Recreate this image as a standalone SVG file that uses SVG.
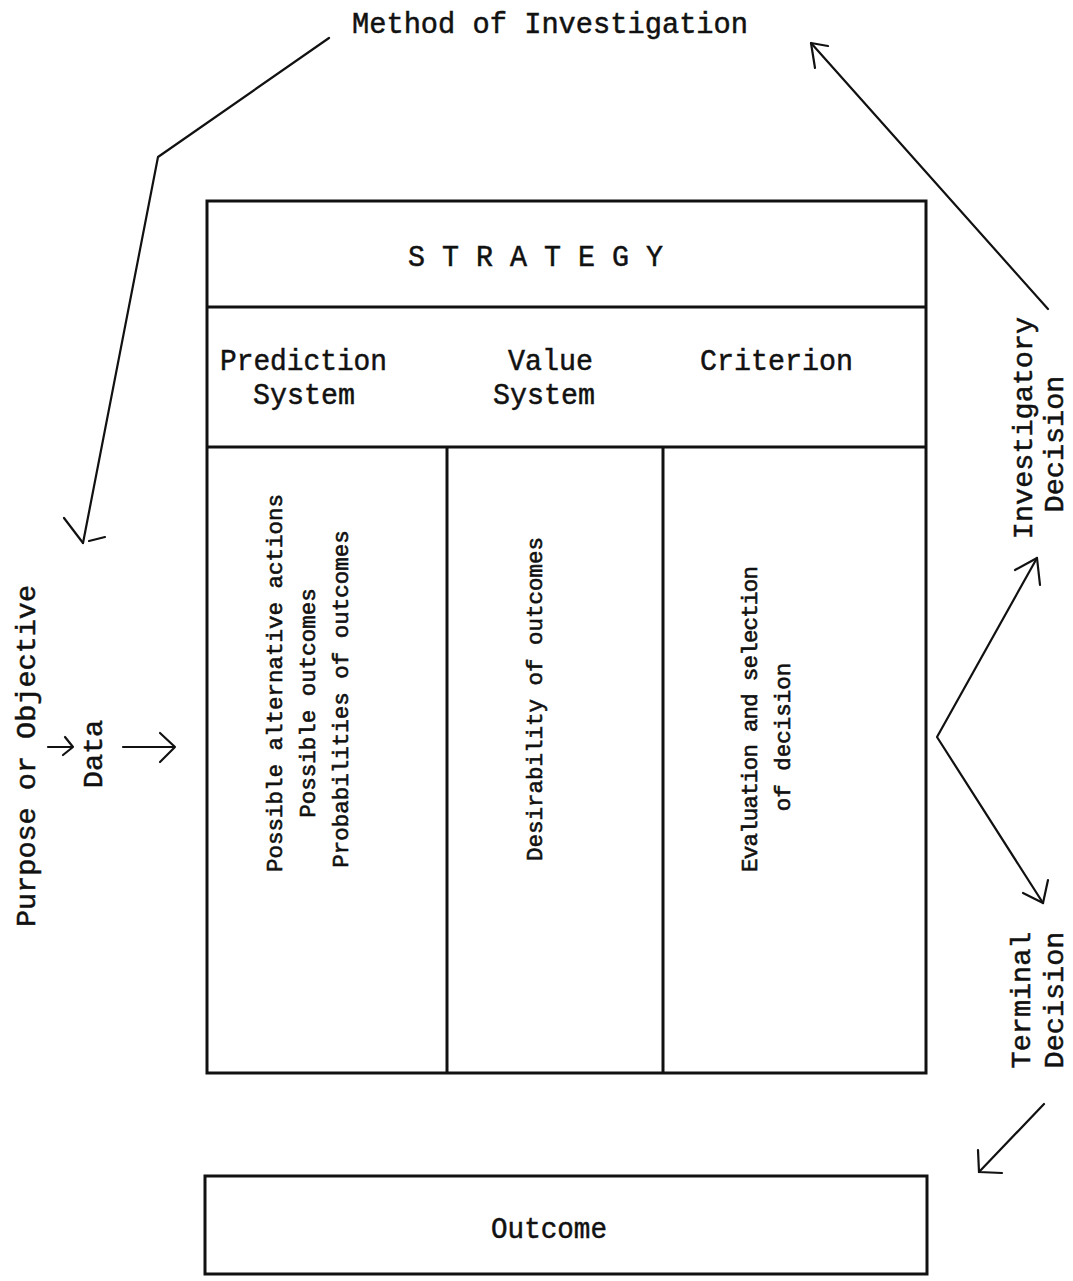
<svg xmlns="http://www.w3.org/2000/svg" width="1073" height="1281" viewBox="0 0 1073 1281">
  <style>
    .bg { fill: #ffffff; }
    .frame { fill: none; stroke: #111; stroke-width: 3; stroke-linecap: square; }
    .rule { stroke: #111; stroke-width: 3; }
    .wire { fill: none; stroke: #111; stroke-width: 2.2; stroke-linecap: round; stroke-linejoin: round; }
    .type { font-family: "Liberation Mono", "Courier New", monospace; font-size: 29px; fill: #111; stroke: #111; stroke-width: 0.5; }
    .lbl { font-family: "Liberation Mono", "Courier New", monospace; font-size: 28.5px; fill: #111; stroke: #111; stroke-width: 0.5; text-anchor: middle; }
    .col { font-family: "Liberation Mono", "Courier New", monospace; font-size: 22.5px; fill: #111; stroke: #111; stroke-width: 0.6; text-anchor: middle; }
  </style>

  <rect class="bg" x="0" y="0" width="1073" height="1281"/>

  <!-- Strategy table: title band, heading band and three columns -->
  <g id="strategy">
    <rect class="frame" x="207" y="201" width="719" height="872"/>
    <line class="rule" x1="207" y1="307" x2="926" y2="307"/>
    <line class="rule" x1="207" y1="447" x2="926" y2="447"/>
    <text class="type" x="408" y="266" textLength="255" lengthAdjust="spacingAndGlyphs">S T R A T E G Y</text>
  </g>

  <g id="prediction-system">
    <line class="rule" x1="447" y1="447" x2="447" y2="1073"/>
    <text class="type" x="220" y="370" textLength="167" lengthAdjust="spacingAndGlyphs">Prediction</text>
    <text class="type" x="253" y="404" textLength="102" lengthAdjust="spacingAndGlyphs">System</text>
    <text class="col" transform="translate(282,683) rotate(-90)">Possible alternative actions</text>
    <text class="col" transform="translate(315,703) rotate(-90)">Possible outcomes</text>
    <text class="col" transform="translate(348,699) rotate(-90)">Probabilities of outcomes</text>
  </g>

  <g id="value-system">
    <line class="rule" x1="663" y1="447" x2="663" y2="1073"/>
    <text class="type" x="508" y="370" textLength="85" lengthAdjust="spacingAndGlyphs">Value</text>
    <text class="type" x="493" y="404" textLength="102" lengthAdjust="spacingAndGlyphs">System</text>
    <text class="col" transform="translate(542,699) rotate(-90)">Desirability of outcomes</text>
  </g>

  <g id="criterion">
    <text class="type" x="700" y="370" textLength="153" lengthAdjust="spacingAndGlyphs">Criterion</text>
    <text class="col" transform="translate(757,719) rotate(-90)" textLength="306" lengthAdjust="spacing">Evaluation and selection</text>
    <text class="col" transform="translate(790,737) rotate(-90)">of decision</text>
  </g>

  <!-- Outcome box -->
  <g id="outcome">
    <rect class="frame" x="205" y="1176" width="722" height="98"/>
    <text class="type" x="491" y="1238" textLength="116" lengthAdjust="spacingAndGlyphs">Outcome</text>
  </g>

  <!-- Free labels around the table -->
  <g id="method-of-investigation">
    <text class="type" x="352" y="33" textLength="396" lengthAdjust="spacingAndGlyphs">Method of Investigation</text>
  </g>

  <g id="purpose-data">
    <text class="lbl" transform="translate(35,756) rotate(-90)">Purpose or Objective</text>
    <text class="lbl" transform="translate(102,754) rotate(-90)">Data</text>
    <path class="wire" d="M48 747 H73 M65 737 L73 747 L63 755"/>
  </g>

  <g id="investigatory-decision">
    <text class="lbl" transform="translate(1032,428) rotate(-90)">Investigatory</text>
    <text class="lbl" transform="translate(1063,444) rotate(-90)">Decision</text>
  </g>

  <g id="terminal-decision">
    <text class="lbl" transform="translate(1030,1000) rotate(-90)">Terminal</text>
    <text class="lbl" transform="translate(1063,1000) rotate(-90)">Decision</text>
  </g>

  <!-- Connectors: hand-drawn lines with open barbs -->
  <g id="connectors">
    <!-- Method of Investigation down to Purpose -->
    <path class="wire" d="M329 38 L158 157 L83 543"/>
    <path class="wire" d="M64 518 L83 543 M89 541 L105 537"/>
    <!-- Data into the table -->
    <path class="wire" d="M123 747 H175 M160 733 L175 747 L160 762"/>
    <!-- Investigatory decision back to method -->
    <path class="wire" d="M1048 309 L811 43"/>
    <path class="wire" d="M815 68 L811 43 L828 46"/>
    <!-- Criterion branching to the two decisions -->
    <path class="wire" d="M1037 558 L937 737 L1043 903"/>
    <path class="wire" d="M1015 570 L1037 558 L1040 585"/>
    <path class="wire" d="M1023 893 L1043 903 L1048 880"/>
    <!-- Terminal decision to outcome -->
    <path class="wire" d="M1044 1104 L979 1172"/>
    <path class="wire" d="M978 1150 L979 1172 L1002 1173"/>
  </g>
</svg>
